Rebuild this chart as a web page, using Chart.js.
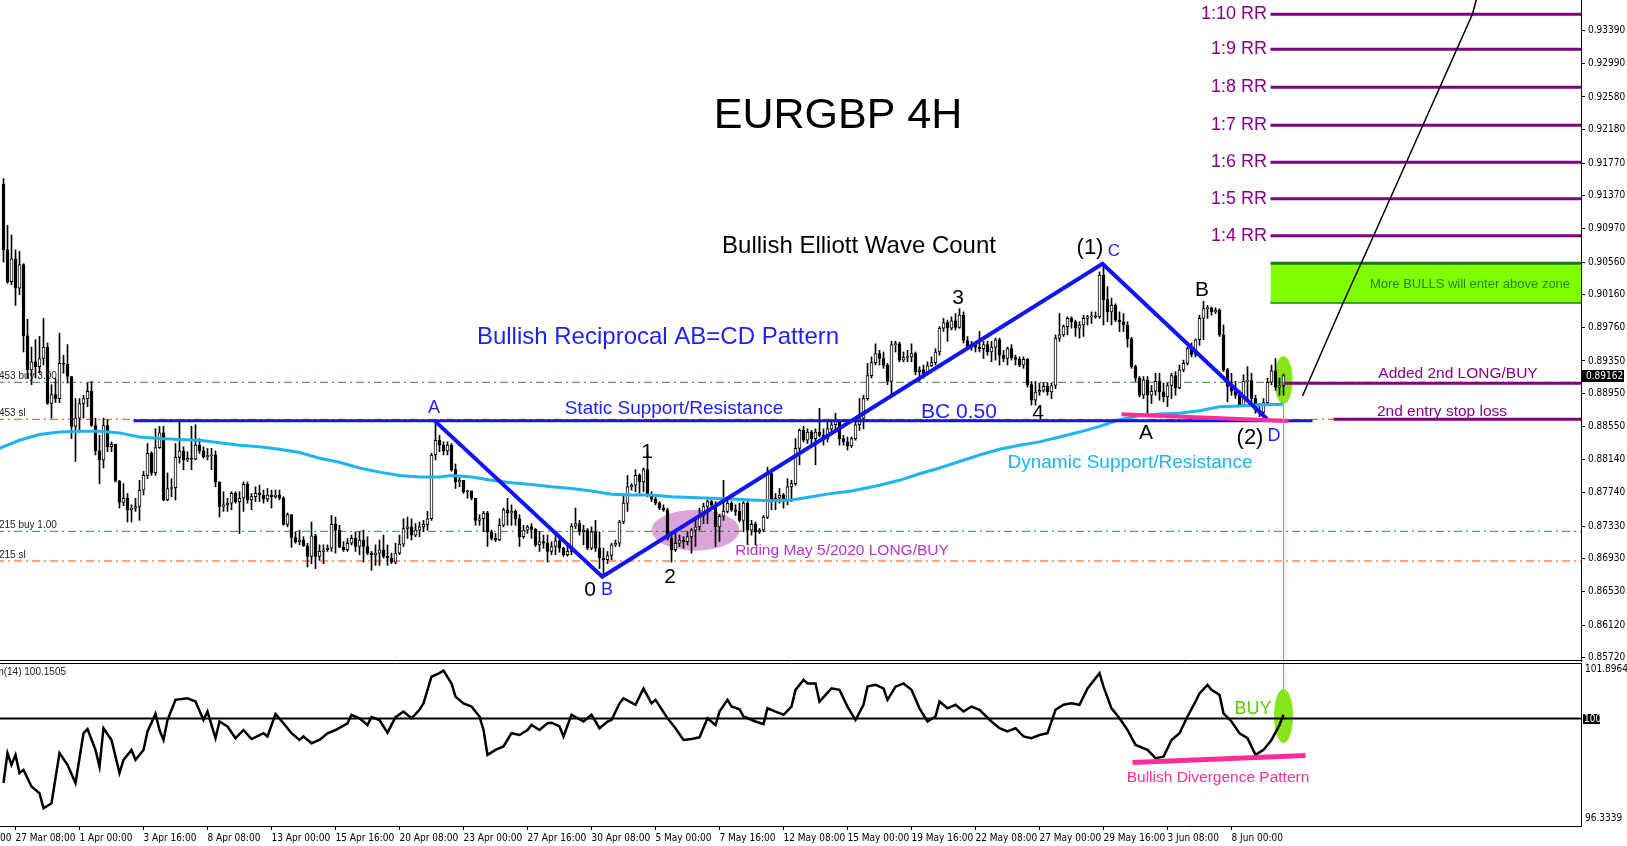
<!DOCTYPE html>
<html>
<head>
<meta charset="utf-8">
<script src="https://cdn.jsdelivr.net/npm/chart.js@4.4.1/dist/chart.umd.min.js"></script>
<style>
  html, body { margin:0; padding:0; background:#fff; }
  #wrap { position:relative; width:1627px; height:846px; overflow:hidden; }
  canvas { position:absolute; left:0; }
  #main { top:0; }
  #mom { top:662px; }
</style>
</head>
<body>
<div id="wrap">
  <canvas id="main" width="1627" height="662"></canvas>
  <canvas id="mom" width="1627" height="184"></canvas>
</div>
<script>
// EURGBP 4H candles, one entry per bar (bar 0 = 26 Mar 20:00, last = 10 Jun 04:00)
const openP = [
0.9151,0.9071,0.9032,0.9060,0.9024,0.9053,0.8966,0.8924,0.8934,0.8928,
0.8938,0.8952,0.8883,0.8894,0.8889,0.8932,0.8931,0.8916,0.8855,0.8865,
0.8883,0.8889,0.8898,0.8856,0.8825,0.8814,0.8856,0.8830,0.8833,0.8788,
0.8762,0.8767,0.8753,0.8755,0.8757,0.8777,0.8795,0.8822,0.8798,0.8829,
0.8847,0.8765,0.8779,0.8780,0.8817,0.8825,0.8814,0.8816,0.8815,0.8832,
0.8825,0.8818,0.8819,0.8820,0.8787,0.8757,0.8759,0.8761,0.8773,0.8763,
0.8767,0.8784,0.8765,0.8769,0.8773,0.8771,0.8766,0.8771,0.8769,0.8771,
0.8767,0.8735,0.8747,0.8719,0.8714,0.8716,0.8709,0.8696,0.8721,0.8696,
0.8702,0.8704,0.8706,0.8735,0.8728,0.8707,0.8704,0.8712,0.8718,0.8708,
0.8716,0.8708,0.8700,0.8698,0.8700,0.8704,0.8696,0.8694,0.8689,0.8700,
0.8711,0.8730,0.8732,0.8722,0.8728,0.8732,0.8735,0.8742,0.8820,0.8838,
0.8832,0.8825,0.8832,0.8802,0.8787,0.8789,0.8775,0.8776,0.8767,0.8740,
0.8742,0.8749,0.8726,0.8718,0.8716,0.8734,0.8753,0.8749,0.8751,0.8742,
0.8720,0.8728,0.8732,0.8729,0.8710,0.8714,0.8712,0.8702,0.8708,0.8715,
0.8706,0.8698,0.8702,0.8733,0.8736,0.8726,0.8728,0.8706,0.8726,0.8706,
0.8694,0.8692,0.8697,0.8710,0.8712,0.8738,0.8761,0.8781,0.8783,0.8795,
0.8787,0.8802,0.8771,0.8766,0.8761,0.8755,0.8753,0.8718,0.8704,0.8712,
0.8716,0.8714,0.8720,0.8728,0.8732,0.8745,0.8757,0.8763,0.8759,0.8732,
0.8745,0.8751,0.8761,0.8753,0.8751,0.8740,0.8761,0.8728,0.8735,0.8726,
0.8728,0.8744,0.8797,0.8763,0.8767,0.8771,0.8765,0.8781,0.8785,0.8828,
0.8850,0.8838,0.8848,0.8840,0.8848,0.8844,0.8840,0.8852,0.8857,0.8861,
0.8840,0.8836,0.8831,0.8840,0.8857,0.8865,0.8889,0.8917,0.8933,0.8944,
0.8938,0.8930,0.8910,0.8955,0.8956,0.8936,0.8939,0.8940,0.8944,0.8922,
0.8924,0.8919,0.8929,0.8933,0.8946,0.8975,0.8982,0.8975,0.8984,0.8976,
0.8991,0.8960,0.8952,0.8955,0.8952,0.8950,0.8955,0.8946,0.8952,0.8961,
0.8942,0.8938,0.8950,0.8939,0.8937,0.8930,0.8937,0.8906,0.8887,0.8897,
0.8899,0.8904,0.8897,0.8905,0.8963,0.8967,0.8977,0.8987,0.8983,0.8975,
0.8979,0.8987,0.8989,0.8990,0.8989,0.9040,0.9010,0.8995,0.9003,0.8985,
0.8983,0.8979,0.8962,0.8928,0.8914,0.8893,0.8912,0.8893,0.8898,0.8910,
0.8897,0.8891,0.8905,0.8917,0.8902,0.8924,0.8932,0.8950,0.8943,0.8961,
0.8987,0.8999,0.9000,0.8995,0.8997,0.8967,0.8924,0.8904,0.8898,0.8893,
0.8881,0.8910,0.8911,0.8889,0.8875,0.8872,0.8884,0.8909,0.8923,0.8903,
0.8905];
const highP = [
0.9158,0.9101,0.9089,0.9071,0.9069,0.9054,0.8986,0.8952,0.8961,0.8965,
0.8987,0.8957,0.8906,0.8914,0.8969,0.8942,0.8955,0.8916,0.8889,0.8889,
0.8893,0.8908,0.8910,0.8865,0.8844,0.8865,0.8863,0.8836,0.8833,0.8789,
0.8785,0.8773,0.8759,0.8767,0.8789,0.8800,0.8834,0.8824,0.8852,0.8855,
0.8855,0.8798,0.8791,0.8834,0.8861,0.8830,0.8824,0.8855,0.8857,0.8840,
0.8830,0.8828,0.8828,0.8825,0.8787,0.8775,0.8767,0.8775,0.8775,0.8775,
0.8787,0.8787,0.8773,0.8781,0.8783,0.8777,0.8779,0.8777,0.8777,0.8777,
0.8769,0.8749,0.8747,0.8726,0.8728,0.8720,0.8712,0.8738,0.8723,0.8710,
0.8710,0.8710,0.8746,0.8744,0.8734,0.8714,0.8718,0.8722,0.8726,0.8726,
0.8728,0.8720,0.8702,0.8710,0.8716,0.8722,0.8710,0.8700,0.8712,0.8722,
0.8742,0.8744,0.8742,0.8736,0.8738,0.8740,0.8751,0.8822,0.8861,0.8844,
0.8836,0.8836,0.8834,0.8809,0.8793,0.8789,0.8777,0.8776,0.8767,0.8747,
0.8751,0.8751,0.8728,0.8724,0.8742,0.8755,0.8767,0.8759,0.8753,0.8747,
0.8734,0.8734,0.8736,0.8730,0.8726,0.8722,0.8722,0.8714,0.8726,0.8722,
0.8707,0.8710,0.8736,0.8755,0.8740,0.8734,0.8730,0.8732,0.8740,0.8726,
0.8706,0.8702,0.8712,0.8716,0.8740,0.8771,0.8795,0.8785,0.8802,0.8797,
0.8804,0.8824,0.8775,0.8769,0.8763,0.8759,0.8755,0.8726,0.8728,0.8722,
0.8720,0.8726,0.8730,0.8742,0.8755,0.8761,0.8765,0.8765,0.8763,0.8747,
0.8789,0.8765,0.8763,0.8759,0.8761,0.8763,0.8763,0.8740,0.8738,0.8730,
0.8746,0.8805,0.8799,0.8773,0.8779,0.8773,0.8791,0.8789,0.8840,0.8852,
0.8855,0.8852,0.8850,0.8852,0.8877,0.8852,0.8861,0.8861,0.8871,0.8863,
0.8844,0.8842,0.8842,0.8861,0.8889,0.8893,0.8932,0.8940,0.8956,0.8948,
0.8946,0.8932,0.8959,0.8959,0.8958,0.8946,0.8948,0.8956,0.8946,0.8928,
0.8930,0.8934,0.8940,0.8950,0.8977,0.8987,0.8985,0.8989,0.8993,0.8999,
0.8995,0.8965,0.8959,0.8957,0.8971,0.8959,0.8959,0.8959,0.8963,0.8963,
0.8948,0.8952,0.8955,0.8942,0.8940,0.8940,0.8938,0.8910,0.8910,0.8908,
0.8908,0.8908,0.8908,0.8967,0.8993,0.8979,0.8989,0.8989,0.8985,0.8983,
0.8991,0.8991,0.8995,0.8995,0.9044,0.9053,0.9026,0.9012,0.9005,0.8995,
0.8993,0.8983,0.8964,0.8930,0.8916,0.8916,0.8916,0.8905,0.8920,0.8920,
0.8908,0.8908,0.8920,0.8922,0.8930,0.8936,0.8952,0.8957,0.8962,0.8991,
0.9008,0.9003,0.9001,0.9000,0.8999,0.8979,0.8926,0.8920,0.8910,0.8899,
0.8918,0.8928,0.8920,0.8893,0.8883,0.8889,0.8914,0.8930,0.8938,0.8914,
0.8919];
const lowP = [
0.9056,0.9030,0.9028,0.9003,0.9016,0.8946,0.8914,0.8906,0.8914,0.8920,
0.8930,0.8882,0.8865,0.8884,0.8884,0.8920,0.8908,0.8840,0.8812,0.8848,
0.8865,0.8879,0.8855,0.8820,0.8785,0.8804,0.8824,0.8824,0.8787,0.8755,
0.8758,0.8738,0.8738,0.8751,0.8740,0.8771,0.8791,0.8795,0.8795,0.8828,
0.8764,0.8764,0.8769,0.8765,0.8810,0.8802,0.8812,0.8802,0.8814,0.8822,
0.8816,0.8814,0.8802,0.8781,0.8744,0.8751,0.8751,0.8753,0.8761,0.8724,
0.8751,0.8761,0.8753,0.8763,0.8763,0.8761,0.8763,0.8755,0.8767,0.8765,
0.8734,0.8732,0.8707,0.8712,0.8710,0.8708,0.8683,0.8687,0.8681,0.8691,
0.8687,0.8702,0.8702,0.8700,0.8707,0.8702,0.8702,0.8710,0.8702,0.8698,
0.8689,0.8698,0.8679,0.8685,0.8685,0.8694,0.8685,0.8687,0.8687,0.8698,
0.8708,0.8718,0.8716,0.8720,0.8720,0.8726,0.8728,0.8740,0.8814,0.8824,
0.8820,0.8820,0.8800,0.8779,0.8781,0.8773,0.8767,0.8765,0.8734,0.8734,
0.8726,0.8708,0.8716,0.8714,0.8715,0.8732,0.8734,0.8734,0.8734,0.8708,
0.8718,0.8724,0.8718,0.8708,0.8702,0.8706,0.8689,0.8698,0.8698,0.8701,
0.8696,0.8696,0.8698,0.8730,0.8722,0.8710,0.8704,0.8704,0.8702,0.8681,
0.8671,0.8687,0.8692,0.8708,0.8708,0.8736,0.8751,0.8777,0.8775,0.8773,
0.8775,0.8769,0.8763,0.8759,0.8753,0.8751,0.8716,0.8689,0.8702,0.8708,
0.8706,0.8710,0.8700,0.8708,0.8728,0.8736,0.8736,0.8755,0.8708,0.8714,
0.8740,0.8749,0.8751,0.8746,0.8738,0.8726,0.8710,0.8722,0.8710,0.8724,
0.8726,0.8742,0.8753,0.8753,0.8761,0.8755,0.8759,0.8763,0.8783,0.8808,
0.8836,0.8834,0.8832,0.8808,0.8842,0.8832,0.8836,0.8848,0.8852,0.8832,
0.8832,0.8826,0.8829,0.8838,0.8850,0.8852,0.8887,0.8914,0.8930,0.8930,
0.8926,0.8906,0.8893,0.8946,0.8934,0.8934,0.8934,0.8934,0.8918,0.8910,
0.8914,0.8918,0.8928,0.8930,0.8942,0.8971,0.8959,0.8973,0.8973,0.8975,
0.8957,0.8950,0.8948,0.8946,0.8946,0.8938,0.8942,0.8934,0.8936,0.8930,
0.8934,0.8930,0.8936,0.8930,0.8928,0.8926,0.8903,0.8881,0.8881,0.8893,
0.8897,0.8893,0.8889,0.8901,0.8959,0.8965,0.8967,0.8975,0.8965,0.8963,
0.8965,0.8979,0.8981,0.8987,0.8987,0.8979,0.8983,0.8979,0.8983,0.8971,
0.8971,0.8952,0.8926,0.8910,0.8891,0.8889,0.8871,0.8883,0.8893,0.8887,
0.8885,0.8879,0.8889,0.8893,0.8901,0.8922,0.8930,0.8940,0.8940,0.8954,
0.8961,0.8987,0.8991,0.8993,0.8965,0.8922,0.8885,0.8893,0.8889,0.8879,
0.8881,0.8889,0.8881,0.8871,0.8867,0.8871,0.8883,0.8906,0.8899,0.8893,
0.8893];
const closeP = [
0.9071,0.9032,0.9060,0.9024,0.9053,0.8966,0.8924,0.8934,0.8928,0.8938,
0.8952,0.8883,0.8894,0.8889,0.8932,0.8931,0.8916,0.8855,0.8865,0.8883,
0.8889,0.8898,0.8856,0.8825,0.8814,0.8856,0.8830,0.8833,0.8788,0.8762,
0.8767,0.8753,0.8755,0.8757,0.8777,0.8795,0.8822,0.8798,0.8829,0.8847,
0.8765,0.8779,0.8780,0.8817,0.8825,0.8814,0.8816,0.8815,0.8832,0.8825,
0.8818,0.8819,0.8820,0.8787,0.8757,0.8759,0.8761,0.8773,0.8763,0.8767,
0.8784,0.8765,0.8769,0.8773,0.8771,0.8766,0.8771,0.8769,0.8771,0.8767,
0.8735,0.8747,0.8719,0.8714,0.8716,0.8709,0.8696,0.8721,0.8696,0.8702,
0.8704,0.8706,0.8735,0.8728,0.8707,0.8704,0.8712,0.8718,0.8708,0.8716,
0.8708,0.8700,0.8698,0.8700,0.8704,0.8696,0.8694,0.8689,0.8700,0.8711,
0.8730,0.8732,0.8722,0.8728,0.8732,0.8735,0.8742,0.8820,0.8838,0.8832,
0.8825,0.8832,0.8802,0.8787,0.8789,0.8775,0.8776,0.8767,0.8740,0.8742,
0.8749,0.8726,0.8718,0.8716,0.8734,0.8753,0.8749,0.8751,0.8742,0.8720,
0.8728,0.8732,0.8729,0.8710,0.8714,0.8712,0.8702,0.8708,0.8715,0.8706,
0.8698,0.8702,0.8733,0.8736,0.8726,0.8728,0.8706,0.8726,0.8706,0.8694,
0.8692,0.8697,0.8710,0.8712,0.8738,0.8761,0.8781,0.8783,0.8795,0.8787,
0.8802,0.8771,0.8766,0.8761,0.8755,0.8753,0.8718,0.8704,0.8712,0.8716,
0.8714,0.8720,0.8728,0.8732,0.8745,0.8757,0.8763,0.8759,0.8732,0.8745,
0.8751,0.8761,0.8753,0.8751,0.8740,0.8761,0.8728,0.8735,0.8726,0.8728,
0.8744,0.8797,0.8763,0.8767,0.8771,0.8765,0.8781,0.8785,0.8828,0.8850,
0.8838,0.8848,0.8840,0.8848,0.8844,0.8840,0.8852,0.8857,0.8861,0.8840,
0.8836,0.8831,0.8840,0.8857,0.8865,0.8889,0.8917,0.8933,0.8944,0.8938,
0.8930,0.8910,0.8955,0.8956,0.8936,0.8939,0.8940,0.8944,0.8922,0.8924,
0.8919,0.8929,0.8933,0.8946,0.8975,0.8982,0.8975,0.8984,0.8976,0.8991,
0.8960,0.8952,0.8955,0.8952,0.8950,0.8955,0.8946,0.8952,0.8961,0.8942,
0.8938,0.8950,0.8939,0.8937,0.8930,0.8937,0.8906,0.8887,0.8897,0.8899,
0.8904,0.8897,0.8905,0.8963,0.8967,0.8977,0.8987,0.8983,0.8975,0.8979,
0.8987,0.8989,0.8990,0.8989,0.9040,0.9010,0.8995,0.9003,0.8985,0.8983,
0.8979,0.8962,0.8928,0.8914,0.8893,0.8912,0.8893,0.8898,0.8910,0.8897,
0.8891,0.8905,0.8917,0.8902,0.8924,0.8932,0.8950,0.8943,0.8961,0.8987,
0.8999,0.9000,0.8995,0.8997,0.8967,0.8924,0.8904,0.8898,0.8893,0.8881,
0.8910,0.8911,0.8889,0.8875,0.8872,0.8884,0.8909,0.8923,0.8903,0.8905,
0.8917];

// moving average (dynamic support/resistance), [bar, price]
const maLine = [[-1,0.8828],[4,0.8838],[9,0.8845],[14,0.8848],[19,0.8849],[24,0.8849],[29,0.8847],[34,0.8842],
  [39,0.8840],[44,0.8839],[49,0.8838],[54,0.8835],[59,0.8832],[64,0.8830],[69,0.8827],[74,0.8823],[79,0.8816],
  [84,0.8811],[89,0.8804],[94,0.8799],[99,0.8795],[104,0.8793],[109,0.8793],[112,0.8795],[117,0.8793],[122,0.8789],
  [127,0.8786],[132,0.8784],[137,0.8781],[142,0.8779],[147,0.8776],[152,0.8772],[157,0.8771],[162,0.8771],[167,0.8769],
  [172,0.8768],[177,0.8767],[182,0.8766],[187,0.8765],[192,0.8764],[197,0.8765],[202,0.8769],[207,0.8773],[212,0.8776],
  [219,0.8783],[224,0.8789],[229,0.8797],[234,0.8804],[239,0.8812],[244,0.8820],[249,0.8827],[254,0.8832],[259,0.8836],
  [264,0.8842],[269,0.8848],[274,0.8855],[279,0.8863],[284,0.8868],[289,0.8870],[294,0.8871],[299,0.8874],[304,0.8879],
  [309,0.8880],[314,0.8881],[320,0.8882]];

// Momentum(14), [bar, value]
const momentum = [[0,97.80],[1,98.82],[2,98.42],[3,98.76],[4,98.14],[5,98.25],[7,97.68],[9,97.45],[10,96.94],[12,97.11],
  [14,98.82],[16,98.42],[18,97.80],[20,99.50],[21,99.64],[23,98.93],[24,98.36],[25,99.67],[27,99.27],[29,98.14],
  [30,98.59],[32,98.93],[33,98.59],[35,98.93],[36,99.56],[38,100.16],[39,99.61],[40,99.27],[41,99.95],[43,100.64],
  [46,100.69],[48,100.58],[50,99.95],[51,100.24],[53,99.33],[54,99.90],[56,99.73],[58,99.33],[60,99.61],[62,99.30],
  [65,99.50],[66,99.39],[68,100.16],[70,99.84],[72,99.50],[74,99.27],[75,99.39],[77,99.16],[79,99.27],[81,99.50],
  [83,99.61],[86,99.84],[87,100.13],[89,100.01],[91,99.78],[92,100.05],[94,99.95],[96,99.52],[98,100.05],[100,100.24],
  [102,100.01],[104,100.30],[105,100.52],[107,101.43],[109,101.55],[110,101.64],[112,101.20],[113,100.75],[115,100.52],[117,100.41],
  [119,100.07],[120,99.61],[121,98.76],[123,98.93],[125,99.05],[127,99.50],[129,99.44],[131,99.61],[132,99.78],[134,99.61],
  [136,99.84],[137,99.86],[139,99.73],[140,99.39],[142,100.13],[145,99.90],[147,100.13],[149,99.67],[151,99.90],[152,99.95],
  [154,100.52],[155,100.69],[158,100.47],[159,100.75],[160,101.03],[162,100.52],[163,100.64],[166,100.01],[168,99.67],[170,99.27],
  [172,99.30],[174,99.36],[176,100.01],[178,99.78],[179,100.24],[181,100.64],[182,100.41],[184,100.32],[185,100.07],[188,99.90],
  [190,99.81],[191,100.35],[193,100.24],[195,100.13],[197,100.41],[198,100.98],[200,101.32],[201,101.20],[203,101.20],[204,100.58],
  [207,101.03],[209,100.98],[211,100.41],[213,99.95],[215,100.47],[216,101.09],[218,101.15],[220,101.03],[221,100.64],[223,101.09],
  [225,101.20],[227,100.98],[229,100.35],[231,99.90],[233,100.07],[234,100.58],[236,100.35],[238,100.47],[240,100.24],[242,100.41],
  [244,100.30],[247,99.90],[249,99.67],[251,99.56],[253,99.67],[255,99.39],[257,99.33],[259,99.44],[261,99.50],[263,100.30],
  [265,100.47],[267,100.52],[269,100.47],[271,101.03],[272,101.20],[274,101.55],[275,101.09],[277,100.35],[279,100.01],[281,99.61],
  [283,99.10],[286,98.93],[288,98.65],[290,98.70],[292,99.27],[294,99.50],[296,100.07],[298,100.58],[299,100.86],[301,101.15],
  [302,100.98],[304,100.81],[305,100.18],[307,99.90],[309,99.50],[311,99.33],[313,98.76],[315,98.93],[317,99.27],[319,99.78],
  [320,100.13]];

const priceTicks = [0.93390,0.92990,0.92580,0.92180,0.91770,0.91370,0.90970,0.90560,0.90160,0.89760,
  0.89350,0.88950,0.88550,0.88140,0.87740,0.87330,0.86930,0.86530,0.86120,0.85720];
const timeIdx = [-13,3,19,35,51,67,83,99,115,131,147,163,179,195,211,227,243,259,275,291,307];
const timeLabels = ['24 Mar 16:00','27 Mar 08:00','1 Apr 00:00','3 Apr 16:00','8 Apr 08:00','13 Apr 00:00',
  '15 Apr 16:00','20 Apr 08:00','23 Apr 00:00','27 Apr 16:00','30 Apr 08:00','5 May 00:00','7 May 16:00',
  '12 May 08:00','15 May 00:00','19 May 16:00','22 May 08:00','27 May 00:00','29 May 16:00','3 Jun 08:00','8 Jun 00:00'];

// AB=CD pattern points A, B, C, D
const patternBar = [107.75, 149.7, 274.75, 315.9];
const patternPrice = [0.8862, 0.8671, 0.9054, 0.8864];
const staticLevel = 0.8862;
const staticSpan = [32.5, 327.25];
// trade levels
const buy3 = 0.89089, sl3 = 0.88636, buy1 = 0.87266, sl1 = 0.86903;
const entry2 = 0.89077, stop2 = 0.88636;
const rrLabels = ['1:10 RR','1:9 RR','1:8 RR','1:7 RR','1:6 RR','1:5 RR','1:4 RR'];
const rrLevels = [0.93591,0.93162,0.92698,0.92233,0.91780,0.91335,0.90882];
const bullZone = [0.90545, 0.90068];
const zoneStart = 316.75;
const pinkPrice = [[279.5,0.88697],[321.25,0.88616]];
const pinkMom = [[282.25,98.50],[325.5,98.74]];
const projection = [[324.75,0.88921],[335,0.90071],[342.5,0.90879],[367.25,0.93594],[369.5,0.9401]];
const bidPrice = 0.89162;
const lastBar = 320;

const X_MIN = -0.875, X_MAX = 394.375, FAR = 420;
const SANS = "'Liberation Sans', Arial, sans-serif";
const AXISFONT = "'Liberation Sans Narrow', 'DejaVu Sans Condensed', 'Liberation Sans', sans-serif";

function seg(points, color, width, extra) {
   return Object.assign({
      type: 'line',
      data: points.map(p => ({x: p[0], y: p[1]})),
      borderColor: color,
      borderWidth: width,
      pointRadius: 0,
      fill: false,
      tension: 0
   }, extra || {});
}

function ellipse(g, cx, cy, rx, ry, color) {
   g.save();
   g.fillStyle = color;
   g.beginPath();
   g.ellipse(cx, cy, rx, ry, 0, 0, Math.PI * 2);
   g.fill();
   g.restore();
}

function label(g, t, x, y, size, color, align) {
   g.save();
   g.font = size + 'px ' + SANS;
   g.fillStyle = color;
   g.textAlign = align || 'center';
   g.textBaseline = 'middle';
   g.fillText(t, x, y);
   g.restore();
}

const bars = openP.map((o, i) => i);
const wickData = bars.map(i => ({x: i, y: [lowP[i], highP[i]]}));
const bodyData = bars.map(i => ({x: i, y: [openP[i], closeP[i]]}));
const bodyFill = bars.map(i => closeP[i] >= openP[i] ? '#ffffff' : '#000000');

const notes = [
   ['EURGBP 4H', 838, 116, 43, '#000'],
   ['Bullish Elliott Wave Count', 859, 246, 24, '#000'],
   ['Bullish Reciprocal AB=CD Pattern', 658, 337, 24, '#1e1eff'],
   ['Static Support/Resistance', 674, 409, 19, '#1e1eff'],
   ['BC 0.50', 959, 412, 21, '#1e1eff'],
   ['Dynamic Support/Resistance', 1130, 463, 19, '#1eb4f0'],
   ['Riding May 5/2020 LONG/BUY', 842, 551, 15.5, '#bb33cc'],
   ['More BULLS will enter above zone', 1470, 284, 13, '#1f8a1f'],
   ['Added 2nd LONG/BUY', 1458, 374, 15.5, '#880088'],
   ['2nd entry stop loss', 1442, 412, 15.5, '#880088'],
   ['1', 647, 452, 21, '#000'],
   ['2', 670, 577, 21, '#000'],
   ['0', 590, 590, 21, '#000'],
   ['3', 958, 298, 21, '#000'],
   ['4', 1038, 413, 21, '#000'],
   ['(1)', 1090, 248, 22, '#000'],
   ['A', 1146, 433, 21, '#000'],
   ['B', 1202, 290, 21, '#000'],
   ['(2)', 1250, 438, 22, '#000'],
   ['A', 434, 408, 18, '#1e1eff'],
   ['B', 607, 590, 18, '#1e1eff'],
   ['C', 1114, 251, 17, '#1e1eff'],
   ['D', 1274, 436, 18, '#1e1eff']
];

const mainDecor = {
   id: 'mainDecor',
   beforeDraw(c) {
      const g = c.ctx;
      g.save(); g.fillStyle = '#fff'; g.fillRect(0, 0, c.width, c.height); g.restore();
   },
   beforeDatasetsDraw(c) {
      const g = c.ctx, x = c.scales.x, y = c.scales.y;
      ellipse(g, x.getPixelForValue(173), y.getPixelForValue(0.8728), 44, 20.5, '#dba5db');
      ellipse(g, x.getPixelForValue(lastBar), y.getPixelForValue(0.89117), 9, 24, '#86e61a');
   },
   afterDraw(c) {
      const g = c.ctx, y = c.scales.y, a = c.chartArea;
      notes.forEach(n => label(g, n[0], n[1], n[2], n[3], n[4]));
      rrLevels.forEach((v, k) => label(g, rrLabels[k], 1267, y.getPixelForValue(v), 18, '#880088', 'right'));
      g.save();
      g.font = '10px ' + SANS;
      g.fillStyle = '#222';
      g.textAlign = 'left';
      g.textBaseline = 'middle';
      g.fillText('453 buy 3.00', -1, y.getPixelForValue(buy3) - 6);
      g.fillText('453 sl', -1, y.getPixelForValue(sl3) - 6);
      g.fillText('215 buy 1.00', -1, y.getPixelForValue(buy1) - 6);
      g.fillText('215 sl', -1, y.getPixelForValue(sl1) - 6);
      // panel bottom border
      g.strokeStyle = '#000';
      g.lineWidth = 1;
      g.beginPath(); g.moveTo(0, 660.5); g.lineTo(a.right, 660.5); g.stroke();
      // bid price box
      const by = Math.round(y.getPixelForValue(bidPrice));
      g.fillStyle = '#000';
      g.fillRect(a.right + 1, by - 6, 42, 12);
      g.fillStyle = '#fff';
      g.font = '10px ' + AXISFONT;
      g.fillText(bidPrice.toFixed(5), a.right + 5, by);
      g.restore();
   }
};

new Chart(document.getElementById('main'), {
   type: 'bar',
   data: {
      datasets: [
         seg([[X_MIN - 1, buy3], [FAR, buy3]], '#2e8b2e', 1, {borderDash: [8, 4, 2, 4], order: 12}),
         seg([[X_MIN - 1, sl3], [FAR, sl3]], '#ff4500', 1, {borderDash: [8, 4, 2, 4], order: 12}),
         seg([[X_MIN - 1, buy1], [FAR, buy1]], '#2e8b2e', 1, {borderDash: [8, 4, 2, 4], order: 12}),
         seg([[X_MIN - 1, sl1], [FAR, sl1]], '#ff4500', 1, {borderDash: [8, 4, 2, 4], order: 12}),
         seg([[zoneStart, bullZone[0]], [FAR, bullZone[0]]], '#1a7a1a', 3, {fill: '+1', backgroundColor: '#80ff00', order: 11}),
         seg([[zoneStart, bullZone[1]], [FAR, bullZone[1]]], '#1a7a1a', 3, {order: 11}),
         {type: 'bar', data: wickData, backgroundColor: '#000', borderWidth: 0, barThickness: 1, grouped: false, order: 9},
         {type: 'bar', data: bodyData, backgroundColor: bodyFill, borderColor: '#000', borderWidth: 1,
            borderSkipped: false, barThickness: 3, minBarLength: 1, grouped: false, order: 8},
         seg(maLine, '#1eb4f0', 3, {order: 7}),
         seg([[staticSpan[0], staticLevel], [staticSpan[1], staticLevel]], '#1414f0', 3, {order: 6}),
         seg(patternBar.map((b, k) => [b, patternPrice[k]]), '#1414f0', 4, {order: 5}),
         seg(pinkPrice, '#ff2d9a', 4, {order: 4}),
         ...rrLevels.map(v => seg([[zoneStart, v], [FAR, v]], '#800080', 3, {order: 3})),
         seg([[lastBar, entry2], [FAR, entry2]], '#800080', 3, {order: 3}),
         seg([[332.5, stop2], [FAR, stop2]], '#800080', 3, {order: 3}),
         seg([[lastBar, 0.8880], [lastBar, 0.85]], '#5ccc44', 1, {order: 2}),
         seg(projection, '#000', 1.5, {order: 1})
      ]
   },
   options: {
      responsive: false,
      animation: false,
      events: [],
      layout: {padding: 0},
      plugins: {legend: {display: false}, tooltip: {enabled: false}},
      scales: {
         x: {type: 'linear', display: false, min: X_MIN, max: X_MAX, offset: false},
         y: {
            position: 'right',
            min: 0.856674,
            max: 0.937656,
            afterBuildTicks: s => { s.ticks = priceTicks.map(v => ({value: v})); },
            afterFit: s => { s.width = 46; s.paddingTop = 0; s.paddingBottom = 0; },
            ticks: {callback: v => v.toFixed(5), color: '#000', autoSkip: false, padding: 3,
               font: {family: AXISFONT, size: 10}},
            grid: {drawOnChartArea: false, drawTicks: true, tickLength: 4, color: '#000'},
            border: {display: true, color: '#000', width: 1}
         }
      }
   },
   plugins: [mainDecor]
});

const momDecor = {
   id: 'momDecor',
   beforeDraw(c) {
      const g = c.ctx;
      g.save(); g.fillStyle = '#fff'; g.fillRect(0, 0, c.width, c.height); g.restore();
   },
   beforeDatasetsDraw(c) {
      ellipse(c.ctx, c.scales.x.getPixelForValue(lastBar), c.scales.y.getPixelForValue(100.09), 9.5, 27, '#86e61a');
   },
   afterDraw(c) {
      const g = c.ctx, a = c.chartArea, y = c.scales.y;
      g.save();
      g.strokeStyle = '#000';
      g.lineWidth = 1;
      g.beginPath(); g.moveTo(0, 1.5); g.lineTo(a.right, 1.5); g.stroke();
      g.font = '10px ' + AXISFONT;
      g.textBaseline = 'middle';
      g.fillStyle = '#000';
      g.textAlign = 'left';
      g.fillText(y.max.toFixed(4), a.right + 4, 7);
      g.fillText(y.min.toFixed(4), a.right + 4, 156);
      const hy = Math.round(y.getPixelForValue(100));
      g.fillRect(a.right + 2, hy - 5, 17, 10);
      g.fillStyle = '#fff';
      g.fillText('100', a.right + 3, hy);
      g.fillStyle = '#222';
      g.textAlign = 'right';
      g.font = '10px ' + SANS;
      g.fillText('Momentum(14) 100.1505', 66, 10);
      g.restore();
      label(g, 'BUY', 1253, 47, 18, '#5ccc00');
      label(g, 'Bullish Divergence Pattern', 1218, 116, 15.5, '#ff2d9a');
   }
};

new Chart(document.getElementById('mom'), {
   type: 'line',
   data: {
      datasets: [
         seg([[lastBar, 101.95], [lastBar, 100.99]], '#5ccc44', 1, {order: 4}),
         seg([[X_MIN - 1, 100], [FAR, 100]], '#000', 2, {order: 3}),
         seg(momentum, '#000', 2.5, {order: 2}),
         seg(pinkMom, '#ff2d9a', 5, {order: 1})
      ]
   },
   options: {
      responsive: false,
      animation: false,
      events: [],
      layout: {padding: {top: 1, left: 0, right: 0, bottom: 0}},
      plugins: {legend: {display: false}, tooltip: {enabled: false}},
      scales: {
         x: {
            type: 'linear', min: X_MIN, max: X_MAX, offset: false, position: 'bottom',
            afterBuildTicks: s => { s.ticks = timeIdx.map(v => ({value: v})); },
            afterFit: s => { s.height = 20; s.paddingLeft = 0; s.paddingRight = 0; },
            ticks: {callback: (v, i) => timeLabels[i], align: 'start', maxRotation: 0, minRotation: 0,
               autoSkip: false, padding: 2, color: '#000', font: {family: AXISFONT, size: 10}},
            grid: {drawOnChartArea: false, drawTicks: true, tickLength: 4, color: '#000'},
            border: {display: true, color: '#000'}
         },
         y: {
            position: 'right', min: 96.3339, max: 101.8964,
            afterFit: s => { s.width = 46; s.paddingTop = 0; s.paddingBottom = 0; },
            ticks: {display: false},
            grid: {display: false},
            border: {display: true, color: '#000'}
         }
      }
   },
   plugins: [momDecor]
});
</script>
</body>
</html>
